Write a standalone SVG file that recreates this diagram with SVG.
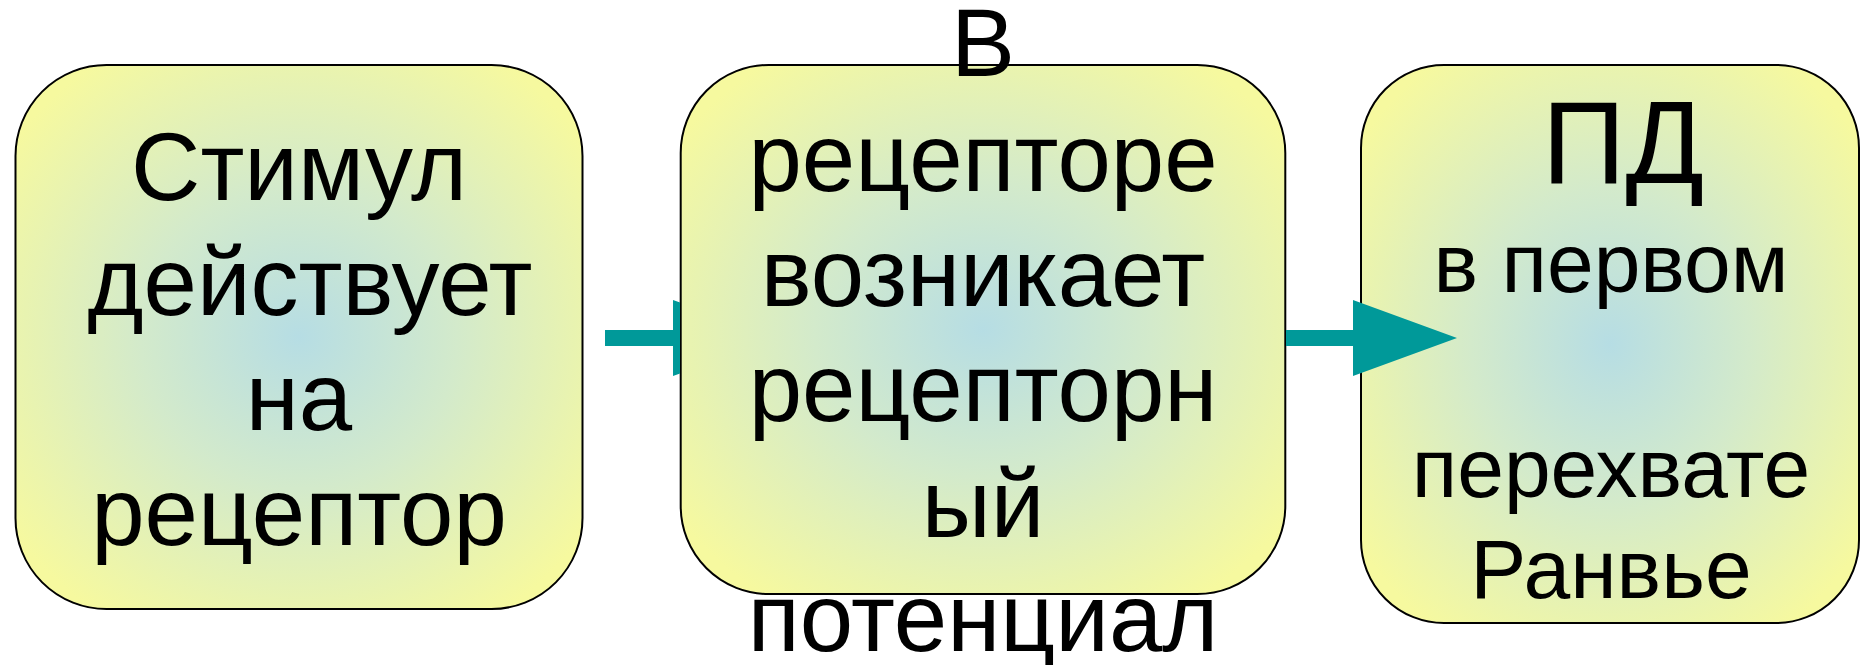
<svg xmlns="http://www.w3.org/2000/svg" width="1862" height="665" viewBox="0 0 1862 665">
  <defs>
    <radialGradient id="fillGrad" cx="0.5" cy="0.5" r="0.62">
      <stop offset="0" stop-color="#b6dde4"/>
      <stop offset="0.45" stop-color="#d3eacb"/>
      <stop offset="1" stop-color="#f6f99f"/>
    </radialGradient>
    <clipPath id="clipA1">
      <rect x="0" y="0" width="680" height="665"/>
    </clipPath>
    <style>
      .box { fill: url(#fillGrad); stroke: #000; stroke-width: 2; }
      .t { font-family: "Liberation Sans", Arial, sans-serif; fill: #000; text-anchor: middle; }
      .big { font-size: 96px; }
      .mid { font-size: 84px; }
      .huge { font-size: 116px; }
      .arrow { fill: #009999; }
    </style>
  </defs>
  <rect width="1862" height="665" fill="#fff"/>

  <g id="node1">
    <rect class="box" x="15.5" y="65" width="567" height="544" rx="91" ry="91"/>
    <text class="t big" x="299" y="200">Стимул</text>
    <text class="t big" x="310" y="315">действует</text>
    <text class="t big" x="299" y="430">на</text>
    <text class="t big" x="299" y="545">рецептор</text>
  </g>

  <g id="node2">
    <rect class="box" x="680.7" y="65" width="604.6" height="529" rx="88" ry="88"/>
    <text class="t big" x="983" y="76">В</text>
    <text class="t big" x="983" y="191">рецепторе</text>
    <text class="t big" x="983" y="306">возникает</text>
    <text class="t big" x="983" y="421">рецепторн</text>
    <text class="t big" x="983" y="537">ый</text>
    <text class="t big" x="983" y="651">потенциал</text>
  </g>

  <g id="node3">
    <rect class="box" x="1361" y="65" width="498" height="558" rx="83" ry="83"/>
    <text class="t huge" x="1623" y="183">ПД</text>
    <text class="t mid" x="1611" y="292">в первом</text>
    <text class="t mid" x="1611" y="497">перехвате</text>
    <text class="t mid" x="1611" y="598">Ранвье</text>
  </g>

  <g id="connectors">
    <polygon class="arrow" clip-path="url(#clipA1)" points="605,330 673,330 673,300 776,338 673,376 673,346 605,346"/>
    <polygon class="arrow" points="1286,330 1353,330 1353,300 1457,338 1353,376 1353,346 1286,346"/>
  </g>
</svg>
